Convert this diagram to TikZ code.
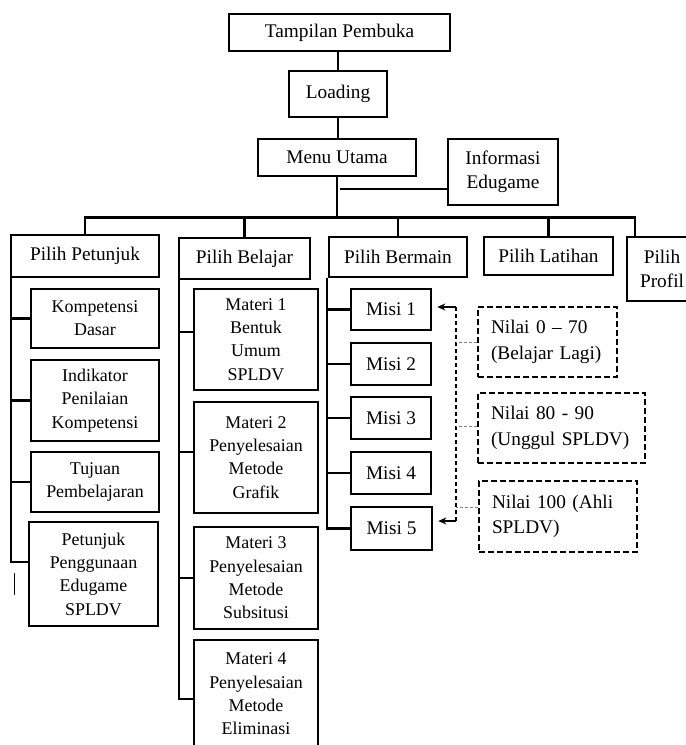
\documentclass[tikz,border=0pt]{standalone}
\usepackage{fontspec}
\setmainfont{Liberation Serif}
\usetikzlibrary{arrows.meta}
\newcommand\bigf{\fontsize{19.3}{23.5}\selectfont}
\newcommand\smallf{\fontsize{17.9}{23.3}\selectfont}
\newcommand\nilf{\fontsize{19.3}{25.5}\selectfont}
\begin{document}
\begin{tikzpicture}[x=1pt,y=-1pt,
  box/.style={draw, line width=2.6pt, align=center, inner sep=0pt, font=\bigf},
  sbox/.style={box, font=\smallf},
  nbox/.style={draw, line width=2.5pt, dash pattern=on 6pt off 3pt, align=left,
               inner xsep=13pt, inner ysep=0pt, font=\nilf},
  conn/.style={line width=2.4pt, line join=miter},
  dline/.style={line width=2.4pt, dash pattern=on 4pt off 3pt},
  tline/.style={line width=0.9pt, gray, dash pattern=on 3pt off 2pt},
  arr/.style={conn, -{Stealth[length=8pt,width=7pt]}, shorten >=5pt}]
\clip (0,0) rectangle (686,745);
\fill[white] (0,0) rectangle (686,745);

% top chain
\node[box, minimum width=221pt, minimum height=37pt] (tp) at (339.5,32.5) {Tampilan Pembuka};
\node[box, minimum width=98pt, minimum height=46pt] (ld) at (338,94) {Loading};
\node[box, minimum width=158pt, minimum height=37pt] (mu) at (337,157.5) {Menu Utama};
\node[box, minimum width=110pt, minimum height=66pt] (ie) at (503,172) {Informasi\\Edugame};

% main menu items
\node[box, minimum width=148pt, minimum height=42pt] (pp) at (85,256) {Pilih Petunjuk};
\node[box, minimum width=131pt, minimum height=41pt] (pb) at (244.5,258.5) {Pilih Belajar};
\node[box, minimum width=138pt, minimum height=40pt] (pbm) at (398,257) {Pilih Bermain};
\node[box, minimum width=129pt, minimum height=38pt] (pl) at (548.5,256) {Pilih Latihan};
\node[box, minimum width=70pt, minimum height=64pt] (pf) at (662,269) {Pilih\\Profil};

% petunjuk children
\node[sbox, minimum width=128pt, minimum height=59pt] (kd) at (95,318.5) {Kompetensi\\Dasar};
\node[sbox, minimum width=128pt, minimum height=81pt] (ipk) at (95,400.5) {Indikator\\Penilaian\\Kompetensi};
\node[sbox, minimum width=128pt, minimum height=60pt] (tjp) at (95,482) {Tujuan\\Pembelajaran};
\node[sbox, minimum width=129pt, minimum height=104pt] (ppe) at (93.5,574) {Petunjuk\\Penggunaan\\Edugame\\SPLDV};

% belajar children
\node[sbox, minimum width=124pt, minimum height=101pt] (m1) at (256,339.5) {Materi 1\\Bentuk\\Umum\\SPLDV};
\node[sbox, minimum width=124pt, minimum height=111pt] (m2) at (256,457.5) {Materi 2\\Penyelesaian\\Metode\\Grafik};
\node[sbox, minimum width=124pt, minimum height=102pt] (m3) at (256,578) {Materi 3\\Penyelesaian\\Metode\\Subsitusi};
\node[sbox, minimum width=124pt, minimum height=108pt] (m4) at (256,694) {Materi 4\\Penyelesaian\\Metode\\Eliminasi};

% bermain children
\node[box, minimum width=80pt, minimum height=41pt] (ms1) at (391,309.5) {Misi 1};
\node[box, minimum width=80pt, minimum height=42pt] (ms2) at (391,364) {Misi 2};
\node[box, minimum width=80pt, minimum height=42pt] (ms3) at (391,418) {Misi 3};
\node[box, minimum width=80pt, minimum height=42pt] (ms4) at (391,473) {Misi 4};
\node[box, minimum width=81pt, minimum height=43pt] (ms5) at (391.5,528.5) {Misi 5};

% score boxes
\node[nbox, text width=113pt, minimum height=70pt] (na) at (547.5,342) {Nilai 0 – 70\\(Belajar Lagi)};
\node[nbox, text width=141pt, minimum height=70pt] (nb) at (561.5,428) {Nilai 80 - 90\\(Unggul SPLDV)};
\node[nbox, text width=132pt, minimum height=71pt] (nc) at (558,516.5) {Nilai 100 (Ahli\\SPLDV)};

% top connectors
\draw[conn] (ld.north) -- (ld.north |- tp.south);
\draw[conn] (ld.south) -- (ld.south |- mu.north);
\coordinate (bus) at (337,217.5);
\draw[conn] (mu.south) -- (bus);
\coordinate (ieL) at ([yshift=-17pt]ie.west);
\draw[conn] (ieL) -- ([xshift=3pt]ieL -| mu.south);
\coordinate (pfd) at ([xshift=9pt]pf.north west);
\draw[conn] (pp.north) -- (pp.north |- bus) -- (bus -| pfd) -- (pfd);
\foreach \n in {pb,pbm,pl} \draw[conn] (\n.north) -- (bus -| \n.north);

% petunjuk column
\coordinate (lcol) at ([xshift=1pt]pp.south west);
\draw[conn] (lcol) |- ([yshift=12pt]ppe.west);
\foreach \n in {kd,ipk,tjp} \draw[conn] (\n.west) -- (\n.west -| lcol);
\draw[line width=1pt] (14,573) -- (14,595);

% belajar column
\coordinate (bcol) at ([xshift=1pt]pb.south west);
\draw[conn] (bcol) |- ([yshift=-5pt]m4.west);
\draw[conn] ([yshift=7.5pt]m1.west) -- ([yshift=7.5pt]m1.west -| bcol);
\draw[conn] ([yshift=5.5pt]m2.west) -- ([yshift=5.5pt]m2.west -| bcol);
\draw[conn] (m3.west) -- (m3.west -| bcol);

% bermain column
\coordinate (mcol) at ([xshift=-1pt]pbm.south west);
\draw[conn] (mcol) |- (ms5.west);
\foreach \n in {ms1,ms2,ms3,ms4} \draw[conn] (\n.west) -- (\n.west -| mcol);

% score feedback
\coordinate (vt) at (456,307);
\coordinate (vb) at (456,521);
\draw[dline] (vt) -- (vb);
\draw[arr] (vt) -- (vt -| ms1.east);
\draw[arr] (vb) -- (vb -| ms5.east);
\draw[tline] (na.west) -- (na.west -| vt);
\draw[tline] ([yshift=2pt]nb.west) -- ([yshift=2pt]nb.west -| vt);
\draw[tline] ([yshift=9.5pt]nc.west) -- ([yshift=9.5pt]nc.west -| vt);
\end{tikzpicture}
\end{document}
